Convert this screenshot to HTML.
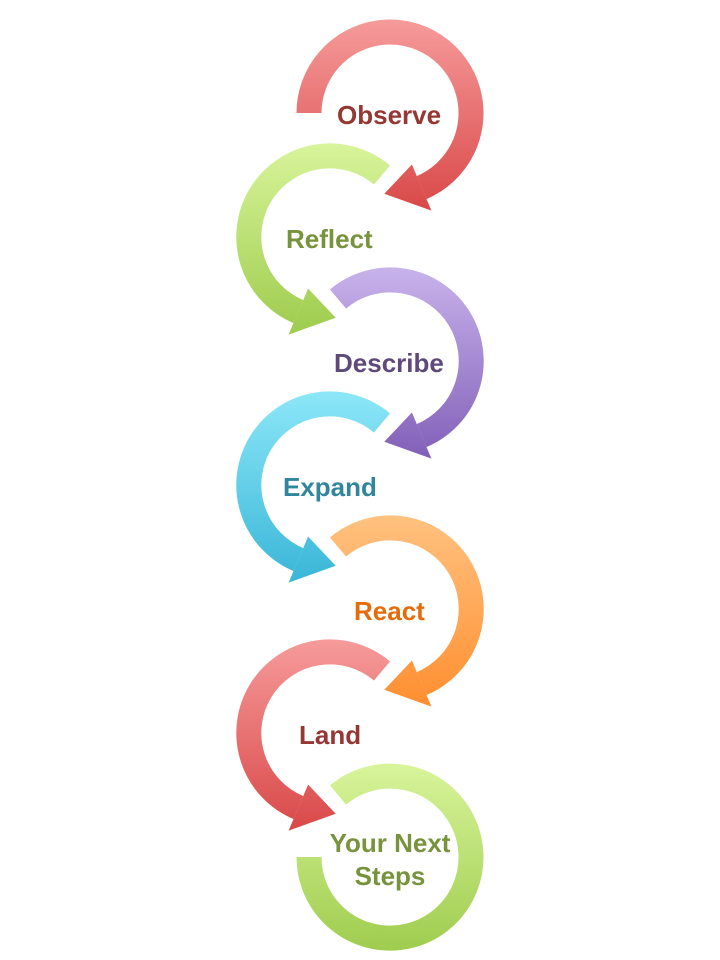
<!DOCTYPE html>
<html><head><meta charset="utf-8"><style>
html,body{margin:0;padding:0;background:#fff;}
svg{display:block}
text{font-family:"Liberation Sans",sans-serif;font-weight:bold;font-size:26px;}
</style></head><body>
<svg width="720" height="960" viewBox="0 0 720 960" xmlns="http://www.w3.org/2000/svg">
<defs>
<linearGradient id="red" gradientUnits="userSpaceOnUse" x1="0" y1="-106" x2="0" y2="106"><stop offset="0" stop-color="#f8a0a0"/><stop offset="1" stop-color="#d84545"/></linearGradient>
<linearGradient id="green" gradientUnits="userSpaceOnUse" x1="0" y1="-106" x2="0" y2="106"><stop offset="0" stop-color="#dcf7a0"/><stop offset="1" stop-color="#9bca4a"/></linearGradient>
<linearGradient id="purple" gradientUnits="userSpaceOnUse" x1="0" y1="-106" x2="0" y2="106"><stop offset="0" stop-color="#cdb8ee"/><stop offset="1" stop-color="#7e5cb6"/></linearGradient>
<linearGradient id="cyan" gradientUnits="userSpaceOnUse" x1="0" y1="-106" x2="0" y2="106"><stop offset="0" stop-color="#92eafa"/><stop offset="1" stop-color="#36b4d6"/></linearGradient>
<linearGradient id="orange" gradientUnits="userSpaceOnUse" x1="0" y1="-106" x2="0" y2="106"><stop offset="0" stop-color="#ffc585"/><stop offset="1" stop-color="#ff8c2c"/></linearGradient>
</defs>
<g transform="translate(390,113)">
<path d="M-81,0 A81,81 0 1 1 31.6,74.6" fill="none" stroke="url(#red)" stroke-width="25"/>
</g>
<g transform="translate(330,237) scale(-1,1)">
<path d="M-52,-62 A81,81 0 1 1 31.6,74.6" fill="none" stroke="url(#green)" stroke-width="25"/>
</g>
<g transform="translate(390,361)">
<path d="M-52,-62 A81,81 0 1 1 31.6,74.6" fill="none" stroke="url(#purple)" stroke-width="25"/>
</g>
<g transform="translate(330,485) scale(-1,1)">
<path d="M-52,-62 A81,81 0 1 1 31.6,74.6" fill="none" stroke="url(#cyan)" stroke-width="25"/>
</g>
<g transform="translate(390,609)">
<path d="M-52,-62 A81,81 0 1 1 31.6,74.6" fill="none" stroke="url(#orange)" stroke-width="25"/>
</g>
<g transform="translate(330,733) scale(-1,1)">
<path d="M-52,-62 A81,81 0 1 1 31.6,74.6" fill="none" stroke="url(#red)" stroke-width="25"/>
</g>
<g transform="translate(390,857)">
<path d="M-52,-62 A81,81 0 1 1 -81,0" fill="none" stroke="url(#green)" stroke-width="25"/>
</g>
<g transform="translate(390,113)"><polygon points="21.9,51.5 41.4,97.6 -5.7,80.8" fill="url(#red)"/></g>
<g transform="translate(330,237) scale(-1,1)"><polygon points="21.9,51.5 41.4,97.6 -5.7,80.8" fill="url(#green)"/></g>
<g transform="translate(390,361)"><polygon points="21.9,51.5 41.4,97.6 -5.7,80.8" fill="url(#purple)"/></g>
<g transform="translate(330,485) scale(-1,1)"><polygon points="21.9,51.5 41.4,97.6 -5.7,80.8" fill="url(#cyan)"/></g>
<g transform="translate(390,609)"><polygon points="21.9,51.5 41.4,97.6 -5.7,80.8" fill="url(#orange)"/></g>
<g transform="translate(330,733) scale(-1,1)"><polygon points="21.9,51.5 41.4,97.6 -5.7,80.8" fill="url(#red)"/></g>

<text x="337" y="124" fill="#953735">Observe</text>
<text x="286" y="248" fill="#77933c">Reflect</text>
<text x="334" y="372" fill="#5f497a">Describe</text>
<text x="283" y="496" fill="#31859c">Expand</text>
<text x="354" y="620" fill="#e46c0a">React</text>
<text x="299" y="744" fill="#953735">Land</text>
<text x="390" y="852" fill="#77933c" text-anchor="middle">Your Next</text>
<text x="390" y="885" fill="#77933c" text-anchor="middle">Steps</text>
</svg>
</body></html>
